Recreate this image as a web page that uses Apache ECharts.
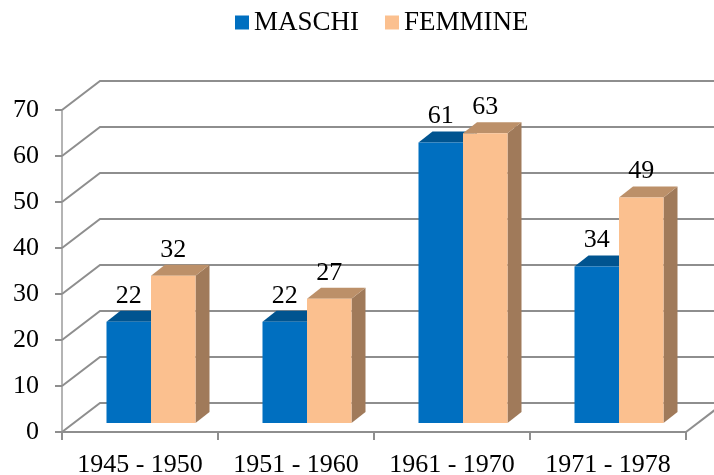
<!DOCTYPE html>
<html>
<head>
<meta charset="utf-8">
<style>html,body{margin:0;padding:0;background:#fff}#c{width:714px;height:475px}</style>
<script src="https://cdn.jsdelivr.net/npm/echarts@6/dist/echarts.min.js"></script>
</head>
<body>
<div id="c"></div>
<script>
const categories = ['1945 - 1950', '1951 - 1960', '1961 - 1970', '1971 - 1978'];
const maschi = [22, 22, 61, 34];
const femmine = [32, 27, 63, 49];
const yTicks = [0, 10, 20, 30, 40, 50, 60, 70];

const FONT = '"Liberation Serif", serif';
const WALL = [38, -29], BAR_OFF = [11, -9], BAR_DEPTH = [14, -11];
const BAR_RATIO = 0.2853, GRID = '#8e8e8e';

function wall(params, api) {
  const cs = params.coordSys, v = api.value(0);
  const y = api.coord([0, v])[1], x0 = cs.x, x1 = cs.x + cs.width;
  const pts = [[x0, y], [x0 + WALL[0], y + WALL[1]], [x1 + WALL[0], y + WALL[1]]];
  const children = [{type: 'polyline', shape: {points: pts}, style: {stroke: GRID, lineWidth: 2, fill: null}}];
  if (v === 0) children.push({type: 'line', shape: {x1: x1, y1: y, x2: x1 + WALL[0], y2: y + WALL[1]}, style: {stroke: GRID, lineWidth: 2}});
  return {type: 'group', children};
}

function bar3d(side, colors) {
  return function (params, api) {
    const i = api.value(0), v = api.value(1);
    const w = api.size([1, 0])[0] * BAR_RATIO;
    const top = api.coord([i, v]), base = api.coord([i, 0]);
    const cx = top[0] + BAR_OFF[0];
    const xl = side < 0 ? cx - w : cx, xr = xl + w;
    const yt = top[1] + BAR_OFF[1], yb = base[1] + BAR_OFF[1];
    const dx = BAR_DEPTH[0], dy = BAR_DEPTH[1];
    return {type: 'group', children: [
      {type: 'polygon', shape: {points: [[xr, yt], [xr + dx, yt + dy], [xr + dx, yb + dy], [xr, yb]]}, style: {fill: colors[2]}},
      {type: 'polygon', shape: {points: [[xl, yt], [xl + dx, yt + dy], [xr + dx, yt + dy], [xr, yt]]}, style: {fill: colors[1]}},
      {type: 'rect', shape: {x: xl, y: yt, width: w, height: yb - yt}, style: {fill: colors[0]}},
      {type: 'text', z2: 50, style: {x: (xl + xr) / 2, y: yt - 26, text: String(v), fill: '#000', font: '26px ' + FONT, align: 'center', verticalAlign: 'middle'}}
    ]};
  };
}

const chart = echarts.init(document.getElementById('c'), null, {renderer: 'canvas'});
chart.setOption({
  animation: false,
  backgroundColor: '#fff',
  legend: {
    left: 230, top: 4, itemWidth: 14, itemHeight: 14, itemGap: 26, icon: 'rect',
    data: ['MASCHI', 'FEMMINE'],
    textStyle: {fontFamily: FONT, fontSize: 27, color: '#000'}
  },
  grid: {left: 62, right: 28, top: 110, bottom: 43, outerBoundsMode: 'none'},
  xAxis: {
    type: 'category', data: categories, boundaryGap: true,
    axisLine: {lineStyle: {color: GRID, width: 2}},
    axisTick: {show: true, length: 8, lineStyle: {color: GRID, width: 2}},
    axisLabel: {interval: 0, margin: 20, color: '#000', fontFamily: FONT, fontSize: 26}
  },
  yAxis: {
    type: 'value', min: 0, max: 70, interval: 10,
    splitLine: {show: false},
    axisLine: {show: true, lineStyle: {color: '#b4b4b4', width: 2}},
    axisTick: {show: true, length: 7, lineStyle: {color: GRID, width: 2}},
    axisLabel: {margin: 23, color: '#000', fontFamily: FONT, fontSize: 26}
  },
  series: [
    {type: 'custom', name: 'wall', silent: true, clip: false, z: 1, renderItem: wall, data: yTicks.map(v => [v]), encode: {y: 0}},
    {type: 'custom', name: 'MASCHI', clip: false, z: 2, itemStyle: {color: '#006FC0'},
      renderItem: bar3d(-1, ['#006FC0', '#005490', '#00508A']),
      data: maschi.map((v, i) => [i, v]), encode: {x: 0, y: 1}},
    {type: 'custom', name: 'FEMMINE', clip: false, z: 3, itemStyle: {color: '#FBC08F'},
      renderItem: bar3d(1, ['#FBC08F', '#BC9069', '#A07A5A']),
      data: femmine.map((v, i) => [i, v]), encode: {x: 0, y: 1}}
  ]
});
</script>
</body>
</html>
